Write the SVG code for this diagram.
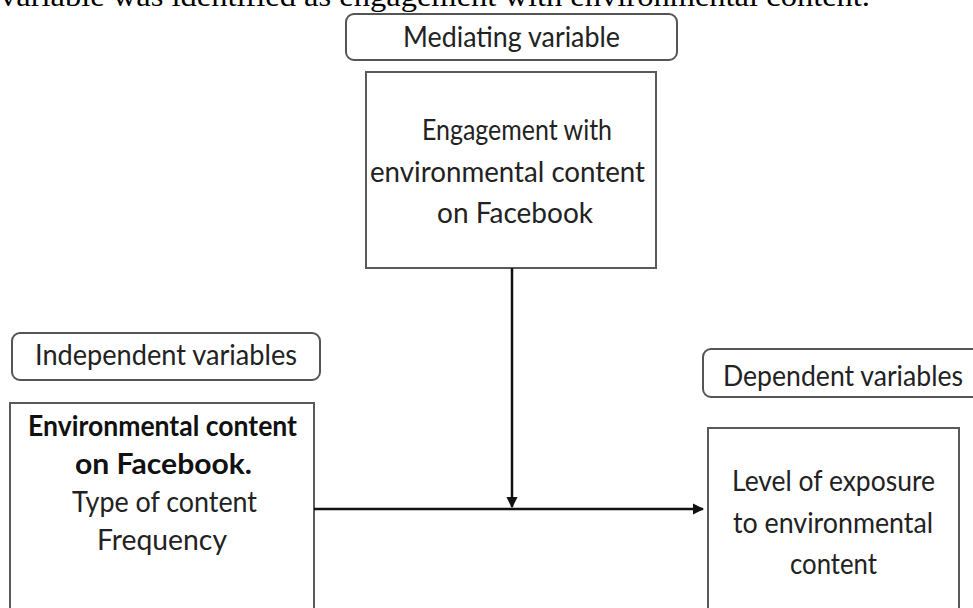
<svg xmlns="http://www.w3.org/2000/svg" width="973" height="608" viewBox="0 0 973 608">
<style>
.lbl{fill:#fff;stroke:#555;stroke-width:2}
.box{fill:#fff;stroke:#5a5a5a;stroke-width:2}
.t{font-family:Lato,"Liberation Sans",sans-serif;font-size:28.5px;fill:#222;text-anchor:middle}
.b{font-weight:bold;fill:#111}
.cap{font-family:"Liberation Serif","Times New Roman",serif;font-size:29px;fill:#000}
.c{stroke:#111;stroke-width:2.5;fill:none}
</style>
<defs>
<marker id="ah" viewBox="0 0 10 10" refX="9" refY="5" markerWidth="4.5" markerHeight="4.5" orient="auto" markerUnits="strokeWidth">
<path d="M0,0 L10,5 L0,10 z" fill="#111"/>
</marker>
</defs>
<rect width="973" height="608" fill="#fff"/>
<text class="cap" x="0" y="6" textLength="870" lengthAdjust="spacingAndGlyphs">variable was identified as engagement with environmental content.</text>

<g id="mediating-label">
<rect class="lbl" x="346" y="14" width="331" height="46" rx="8"/>
<text class="t" x="511.5" y="47" textLength="217" lengthAdjust="spacingAndGlyphs">Mediating variable</text>
</g>
<g id="mediating">
<rect class="box" x="366" y="72" width="290" height="196"/>
<text class="t" x="517" y="140" textLength="190" lengthAdjust="spacingAndGlyphs">Engagement with</text>
<text class="t" x="507.5" y="182" textLength="275" lengthAdjust="spacingAndGlyphs">environmental content</text>
<text class="t" x="515" y="223" textLength="156" lengthAdjust="spacingAndGlyphs">on Facebook</text>
</g>

<g id="independent-label">
<rect class="lbl" x="12" y="333" width="308" height="47" rx="8"/>
<text class="t" x="166" y="365" textLength="262" lengthAdjust="spacingAndGlyphs">Independent variables</text>
</g>
<g id="independent">
<rect class="box" x="10" y="403" width="304" height="215"/>
<text class="t b" x="162.5" y="436" textLength="269" lengthAdjust="spacingAndGlyphs">Environmental content</text>
<text class="t b" x="163.5" y="474" textLength="177" lengthAdjust="spacingAndGlyphs">on Facebook.</text>
<text class="t" x="164.5" y="512" textLength="185" lengthAdjust="spacingAndGlyphs">Type of content</text>
<text class="t" x="162" y="550" textLength="130" lengthAdjust="spacingAndGlyphs">Frequency</text>
</g>

<g id="dependent-label">
<rect class="lbl" x="703" y="349" width="280" height="48" rx="8"/>
<text class="t" x="843" y="386" textLength="240" lengthAdjust="spacingAndGlyphs">Dependent variables</text>
</g>
<g id="dependent">
<rect class="box" x="708" y="428" width="251" height="190"/>
<text class="t" x="833.5" y="491" textLength="203" lengthAdjust="spacingAndGlyphs">Level of exposure</text>
<text class="t" x="833" y="533" textLength="200" lengthAdjust="spacingAndGlyphs">to environmental</text>
<text class="t" x="833.5" y="574" textLength="87" lengthAdjust="spacingAndGlyphs">content</text>
</g>

<g id="connectors">
<line class="c" x1="314" y1="509" x2="703" y2="509" marker-end="url(#ah)"/>
<line class="c" x1="512" y1="268" x2="512" y2="507" marker-end="url(#ah)"/>
</g>
</svg>
